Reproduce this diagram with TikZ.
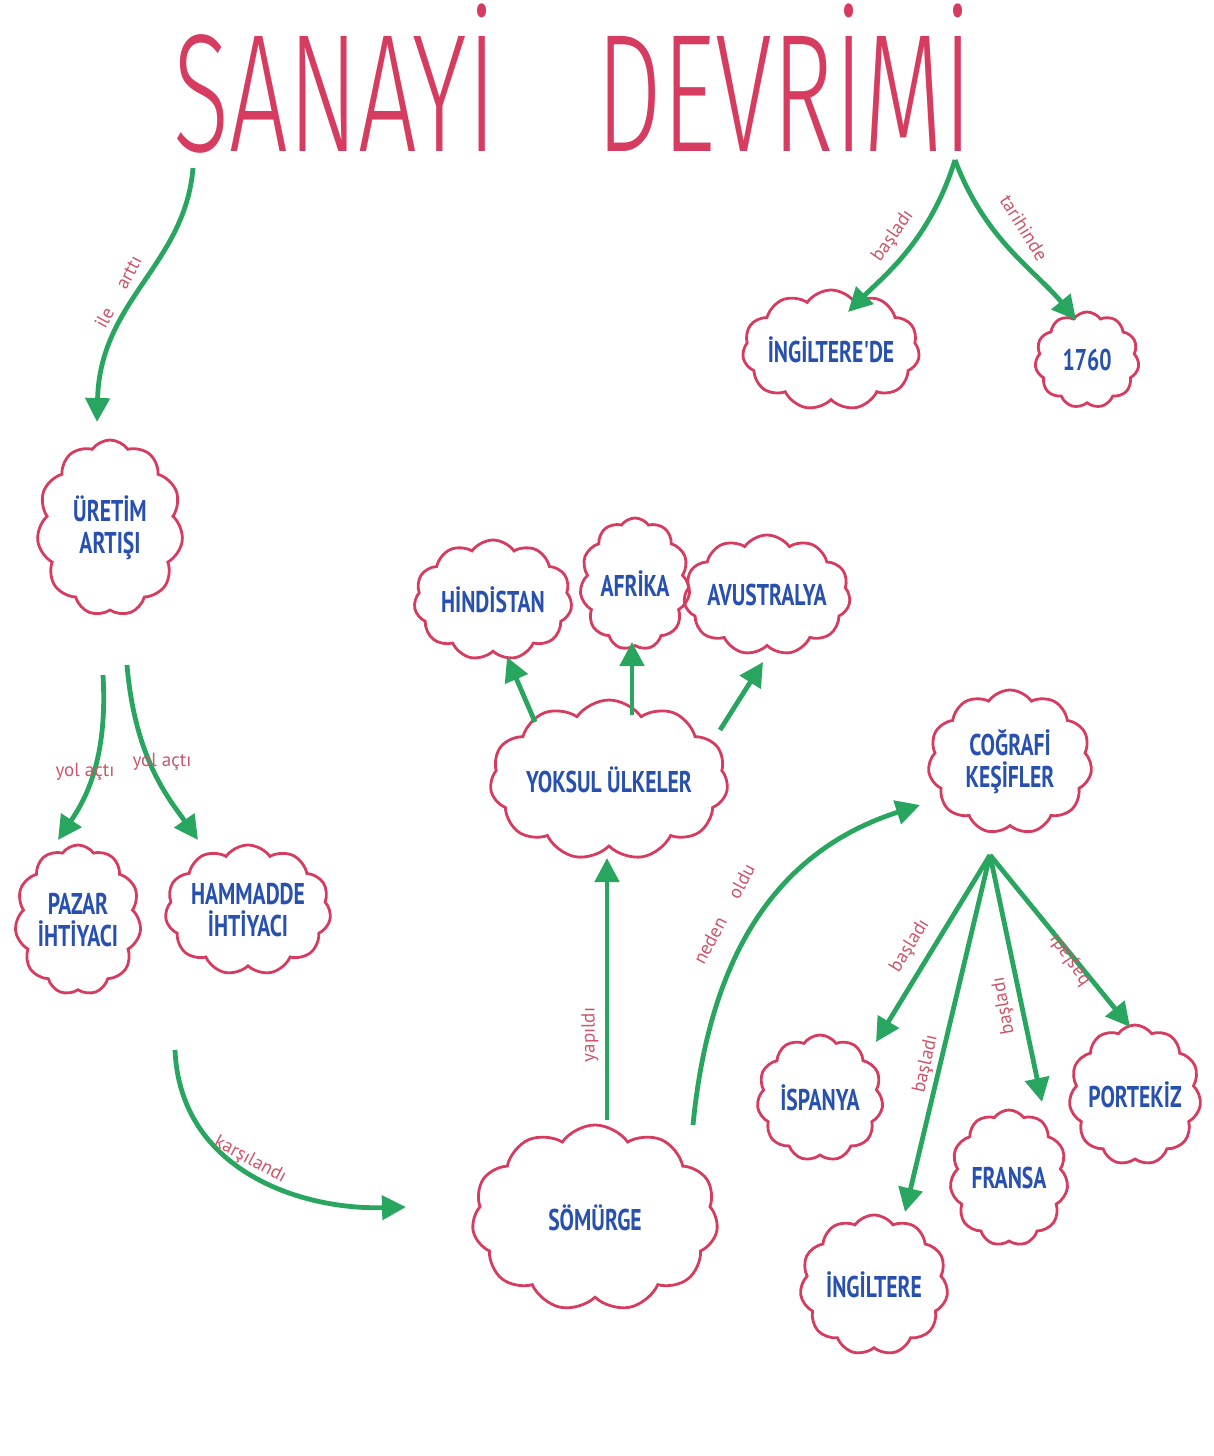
\documentclass[tikz,border=0pt]{standalone}
\usepackage{fontspec}
\usetikzlibrary{shapes.symbols,arrows.meta}
\newfontfamily\titlefont[FakeStretch=0.62]{Fira Sans Light}
\newfontfamily\handfont[FakeStretch=0.72]{PT Sans}
\newfontfamily\lblfont{PT Sans}
\definecolor{cloudred}{RGB}{214,60,95}
\definecolor{arrgreen}{RGB}{40,165,95}
\definecolor{txtblue}{RGB}{40,80,175}
\definecolor{lblred}{RGB}{205,85,105}
\tikzset{
 cl/.style={cloud, cloud ignores aspect, draw=cloudred, line width=1.4pt, cloud puffs=11, cloud puff arc=110, inner sep=0pt, font=\handfont\bfseries\fontsize{15}{16}\selectfont, text=txtblue, align=center},
 arr/.style={draw=arrgreen, line width=2.4pt, -{Triangle[length=12pt,width=12pt]}},
 lbl/.style={font=\lblfont\fontsize{9.5}{10}\selectfont, text=lblred, inner sep=1pt},
 ttl/.style={font=\titlefont\fontsize{84}{84}\selectfont, text=cloudred, inner sep=0pt, anchor=base}
}
\begin{document}
\begin{tikzpicture}[x=0.5pt,y=-0.5pt]
\useasboundingbox (0,0) rectangle (1214,1456);
% title
\node[ttl] (t1) at (335,151) {SANAYİ};
\node[ttl] (t2) at (785,151) {DEVRİMİ};
% clouds
\node[cl, minimum width=84pt, minimum height=60pt] (ing) at (831,350) {İNGİLTERE'DE};
\node[cl, minimum width=52pt, minimum height=48pt] (y1760) at (1087,360) {1760};
\node[cl, minimum width=73pt, minimum height=88pt] (uret) at (110,528) {ÜRETİM\\ARTIŞI};
\node[cl, minimum width=79pt, minimum height=60pt] (hind) at (493,600) {HİNDİSTAN};
\node[cl, minimum width=55pt, minimum height=66pt] (afr) at (635,584) {AFRİKA};
\node[cl, minimum width=75pt, minimum height=60pt] (avus) at (767,595) {AVUSTRALYA};
\node[cl, minimum width=119pt, minimum height=80pt] (yok) at (609,780) {YOKSUL ÜLKELER};
\node[cl, minimum width=82pt, minimum height=72pt] (cog) at (1010,762) {COĞRAFİ\\KEŞİFLER};
\node[cl, minimum width=63pt, minimum height=75pt] (paz) at (78,920) {PAZAR\\İHTİYACI};
\node[cl, minimum width=70pt, minimum height=65pt] (ham) at (248,910) {HAMMADDE\\İHTİYACI};
\node[cl, minimum width=123pt, minimum height=93pt] (som) at (595,1218) {SÖMÜRGE};
\node[cl, minimum width=63pt, minimum height=63pt] (isp) at (820,1098) {İSPANYA};
\node[cl, minimum width=60pt, minimum height=70pt] (por) at (1135,1095) {PORTEKİZ};
\node[cl, minimum width=59pt, minimum height=68pt] (fra) at (1009,1178) {FRANSA};
\node[cl, minimum width=74pt, minimum height=70pt] (ingt) at (874,1285) {İNGİLTERE};
% coordinates
\coordinate (a1s) at (193,168);
\coordinate (a1e) at (97,422);
\coordinate (fork) at (955,160);
\coordinate (ingT) at (848,312);
\coordinate (yT) at (1076,320);
\coordinate (u1) at (103,675);
\coordinate (u2) at (127,665);
\coordinate (pazT) at (58,840);
\coordinate (hamT) at (198,840);
\coordinate (k1) at (175,1050);
\coordinate (k2) at (406,1207);
\coordinate (s1) at (607,1120);
\coordinate (s1e) at (607,858);
\coordinate (s2) at (693,1125);
\coordinate (cogT) at (920,805);
\coordinate (y1) at (535,722);
\coordinate (hindT) at (507,657);
\coordinate (y2) at (632,715);
\coordinate (afrT) at (632,642);
\coordinate (y3) at (720,730);
\coordinate (avT) at (763,662);
\coordinate (fan) at (990,855);
\coordinate (ispT) at (876,1042);
\coordinate (ingtT) at (905,1212);
\coordinate (fraT) at (1042,1102);
\coordinate (porT) at (1130,1027);
% arrows
\draw[arr] (a1s) .. controls (185,265) and (100,300) .. (a1e);
\draw[arr] (fork) .. controls (930,240) and (885,275) .. (ingT);
\draw[arr] (fork) .. controls (985,240) and (1035,270) .. (yT);
\draw[arr] (u1) .. controls (108,760) and (85,800) .. (pazT);
\draw[arr] (u2) .. controls (135,760) and (170,800) .. (hamT);
\draw[arr] (k1) .. controls (180,1170) and (300,1210) .. (k2);
\draw[arr] (s1) -- (s1e);
\draw[arr] (s2) .. controls (710,950) and (780,850) .. (cogT);
\draw[arr] (y1) -- (hindT);
\draw[arr] (y2) -- (afrT);
\draw[arr] (y3) -- (avT);
\draw[arr] (fan) -- (ispT);
\draw[arr] (fan) -- (ingtT);
\draw[arr] (fan) -- (fraT);
\draw[arr] (fan) -- (porT);
% labels
\node[lbl, rotate=62] (l1) at (118,292) {ile \quad arttı};
\node[lbl, rotate=55] (l2) at (893,236) {başladı};
\node[lbl, rotate=-58] (l3) at (1024,228) {tarihinde};
\node[lbl] (l4) at (85,772) {yol açtı};
\node[lbl] (l5) at (162,762) {yol açtı};
\node[lbl, rotate=-28] (l6) at (250,1160) {karşılandı};
\node[lbl, rotate=90] (l7) at (590,1035) {yapıldı};
\node[lbl, rotate=62] (l8) at (724,914) {neden \quad oldu};
\node[lbl, rotate=58] (l9) at (910,946) {başladı};
\node[lbl, rotate=77] (l10) at (926,1064) {başladı};
\node[lbl, rotate=100] (l11) at (1004,1006) {başladı};
\node[lbl, rotate=125] (l12) at (1070,960) {başladı};
\end{tikzpicture}
\end{document}
